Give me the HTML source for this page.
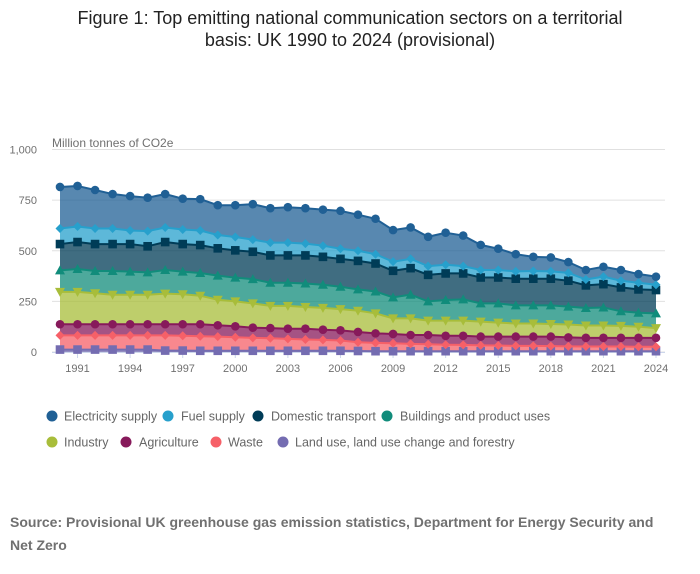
<!DOCTYPE html>
<html><head><meta charset="utf-8"><style>
body{margin:0;background:#fff;width:700px;height:574px;overflow:hidden;font-family:"Liberation Sans",sans-serif;}
.t{position:absolute;left:0;width:700px;text-align:center;font-size:18px;color:#222;line-height:22px;top:7px;}
.src{position:absolute;left:10px;top:511px;width:665px;font-size:14px;font-weight:bold;color:#707070;line-height:23px;}
</style></head><body>
<div class="t">Figure 1: Top emitting national communication sectors on a territorial<br>basis: UK 1990 to 2024 (provisional)</div>
<svg id="c" width="700" height="480" style="position:absolute;left:0;top:0" xmlns="http://www.w3.org/2000/svg"></svg>
<div class="src">Source: Provisional UK greenhouse gas emission statistics, Department for Energy Security and<br>Net Zero</div>
<script>
const S=[
["Electricity supply","#206095","circle",[815,820,800,780,770,762,780,757,755,725,725,730,710,715,710,703,697,678,658,602,615,569,589,575,529,510,483,470,467,444,405,421,405,385,372]],
["Fuel supply","#27a0cc","diamond",[610,620,610,610,600,597,615,605,600,578,568,555,540,540,535,525,510,500,483,446,460,424,431,424,405,405,398,400,398,391,358,372,352,342,332]],
["Domestic transport","#003c57","square",[533,543,533,533,533,522,543,533,528,512,502,495,477,477,477,470,460,450,437,401,414,381,388,388,368,368,362,362,362,352,329,335,319,309,306]],
["Buildings and product uses","#118c7b","tri",[403,410,400,400,397,393,405,397,390,377,367,360,342,342,338,332,322,309,299,270,283,250,257,260,240,240,230,230,230,224,217,220,201,194,191]],
["Industry","#a8bd3a","tridown",[297,297,290,283,283,283,288,285,278,258,250,240,228,228,222,218,212,204,191,166,166,155,155,155,150,145,141,141,138,136,131,131,129,125,118]],
["Agriculture","#871a5b","circle",[137,137,137,137,137,137,137,137,137,132,127,120,118,115,115,110,107,99,92,89,84,84,80,80,76,76,76,76,76,72,70,70,70,70,70]],
["Waste","#f66068","diamond",[82,82,82,82,82,82,82,80,78,76,73,70,68,65,62,60,57,48,45,43,40,38,36,35,33,32,30,30,29,28,27,27,27,26,26]],
["Land use, land use change and forestry","#746cb1","square",[12,12,12,12,12,12,7,7,6,6,6,6,6,6,6,6,6,5,4,4,4,4,4,4,4,4,4,4,4,4,4,4,4,4,4]]
];
const X=i=>60+i*596/34, Y=v=>352-v*0.2025;
let h='';
[0,250,500,750,1000].forEach((v,k)=>{const y=Y(v);h+=`<line x1="52" x2="665" y1="${y}" y2="${y}" stroke="#e0e0e0"/>`;h+=`<text x="37" y="${y+4}" text-anchor="end" font-size="11" fill="#707070">${k==4?'1,000':v}</text>`;});
h+=`<text x="52" y="147" font-size="12" fill="#707070">Million tonnes of CO2e</text>`;
h+=`<line x1="52" x2="665" y1="352.5" y2="352.5" stroke="#ccd6eb"/>`;
for(let yr=1991;yr<=2024;yr+=3){const x=X(yr-1990);h+=`<line x1="${x}" x2="${x}" y1="352" y2="358" stroke="#ccd6eb"/><text x="${x}" y="372" text-anchor="middle" font-size="11" fill="#707070">${yr}</text>`;}
for(let i=0;i<S.length;i++){const a=S[i][3],b=i+1<S.length?S[i+1][3]:a.map(()=>0);
let p='M'+a.map((v,j)=>X(j)+','+Y(v)).join('L');for(let j=34;j>=0;j--)p+='L'+X(j)+','+Y(b[j]);
h+=`<path d="${p}Z" fill="${S[i][1]}" fill-opacity="0.75"/>`;}
function mk(t,x,y,c){if(t=='circle')return `<circle cx="${x}" cy="${y}" r="4.3" fill="${c}"/>`;
if(t=='square')return `<rect x="${x-4.3}" y="${y-4.3}" width="8.6" height="8.6" fill="${c}"/>`;
if(t=='diamond')return `<path d="M${x},${y-4.5}L${x+4.5},${y}L${x},${y+4.5}L${x-4.5},${y}Z" fill="${c}"/>`;
if(t=='tri')return `<path d="M${x},${y-5}L${x+5},${y+4}L${x-5},${y+4}Z" fill="${c}"/>`;
return `<path d="M${x},${y+5}L${x+5},${y-4}L${x-5},${y-4}Z" fill="${c}"/>`;}
for(let i=S.length-1;i>=0;i--){const a=S[i][3];
h+=`<polyline points="${a.map((v,j)=>X(j)+','+Y(v)).join(' ')}" fill="none" stroke="${S[i][1]}" stroke-width="2"/>`;
a.forEach((v,j)=>h+=mk(S[i][2],X(j),Y(v),S[i][1]));}
const L=[[52,64,416],[168,181,416],[258,271,416],[387,400,416],[52,64,442],[126,139,442],[216,228,442],[283,295,442]];
S.forEach((s,i)=>{const l=L[i];h+=`<circle cx="${l[0]}" cy="${l[2]}" r="5.5" fill="${s[1]}"/><text x="${l[1]}" y="${l[2]+4.5}" font-size="12.5" fill="#666">${s[0]}</text>`;});
document.getElementById('c').innerHTML=h;
</script>
</body></html>
